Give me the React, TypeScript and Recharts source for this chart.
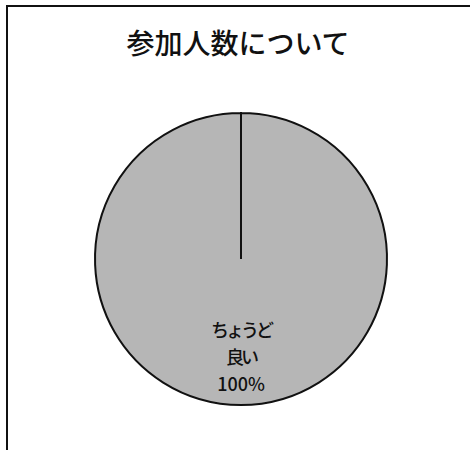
import React from "react";
import { PieChart, Pie, Cell } from "recharts";

const title = "参加人数について";
const categories = ["ちょうど良い"];
const categoryLines = [["ちょうど", "良い"]];
const values = [100];

const data = categories.map((name, i) => ({ name, value: values[i], lines: categoryLines[i] }));

const RAD = Math.PI / 180;

const renderLabel = (props: any) => {
  const { cx, cy, midAngle, outerRadius, percent, payload } = props;
  const r = outerRadius * 0.665;
  const x = cx + r * Math.cos(-midAngle * RAD);
  const y = cy + r * Math.sin(-midAngle * RAD);
  const nameLines: string[] = payload.lines || [payload.name];
  const lines: string[] = [...nameLines, `${Math.round(percent * 100)}%`];
  const lh = 27;
  const start = y - ((lines.length - 1) * lh) / 2;
  return (
    <text
      x={x}
      y={start}
      textAnchor="middle"
      dominantBaseline="central"
      fill="#111"
      fontSize={18}
      fontWeight={500}
      fontFamily="'Noto Sans CJK JP', 'Noto Sans', sans-serif"
    >
      {lines.map((l, i) => (
        <tspan
          key={i}
          x={x}
          y={start + i * lh}
          dominantBaseline="central"
          letterSpacing={i < nameLines.length ? -3 : 0}
        >
          {l}
        </tspan>
      ))}
    </text>
  );
};

export default function App() {
  return (
    <div style={{ position: "absolute", left: 0, top: 0, width: 470, height: 450, background: "#fff" }}>
      <div
        style={{
          position: "absolute",
          left: 6,
          top: 5,
          width: 464,
          height: 445,
          borderTop: "2px solid #111",
          borderLeft: "2px solid #111",
        }}
      />
      <PieChart width={470} height={450} style={{ position: "absolute", left: 0, top: 0 }}>
        <text
          x={238}
          y={42}
          textAnchor="middle"
          dominantBaseline="central"
          fontSize={28}
          fontWeight={500}
          fill="#111"
          fontFamily="'Noto Sans CJK JP', 'Noto Sans', sans-serif"
        >
          {title}
        </text>
        <Pie
          data={data}
          dataKey="value"
          nameKey="name"
          cx={236}
          cy={254}
          outerRadius={146}
          startAngle={90}
          endAngle={-270}
          stroke="#111"
          strokeWidth={2}
          label={renderLabel}
          labelLine={false}
          isAnimationActive={false}
        >
          {data.map((d, i) => (
            <Cell key={i} fill="#b6b6b6" />
          ))}
        </Pie>
      </PieChart>
    </div>
  );
}
